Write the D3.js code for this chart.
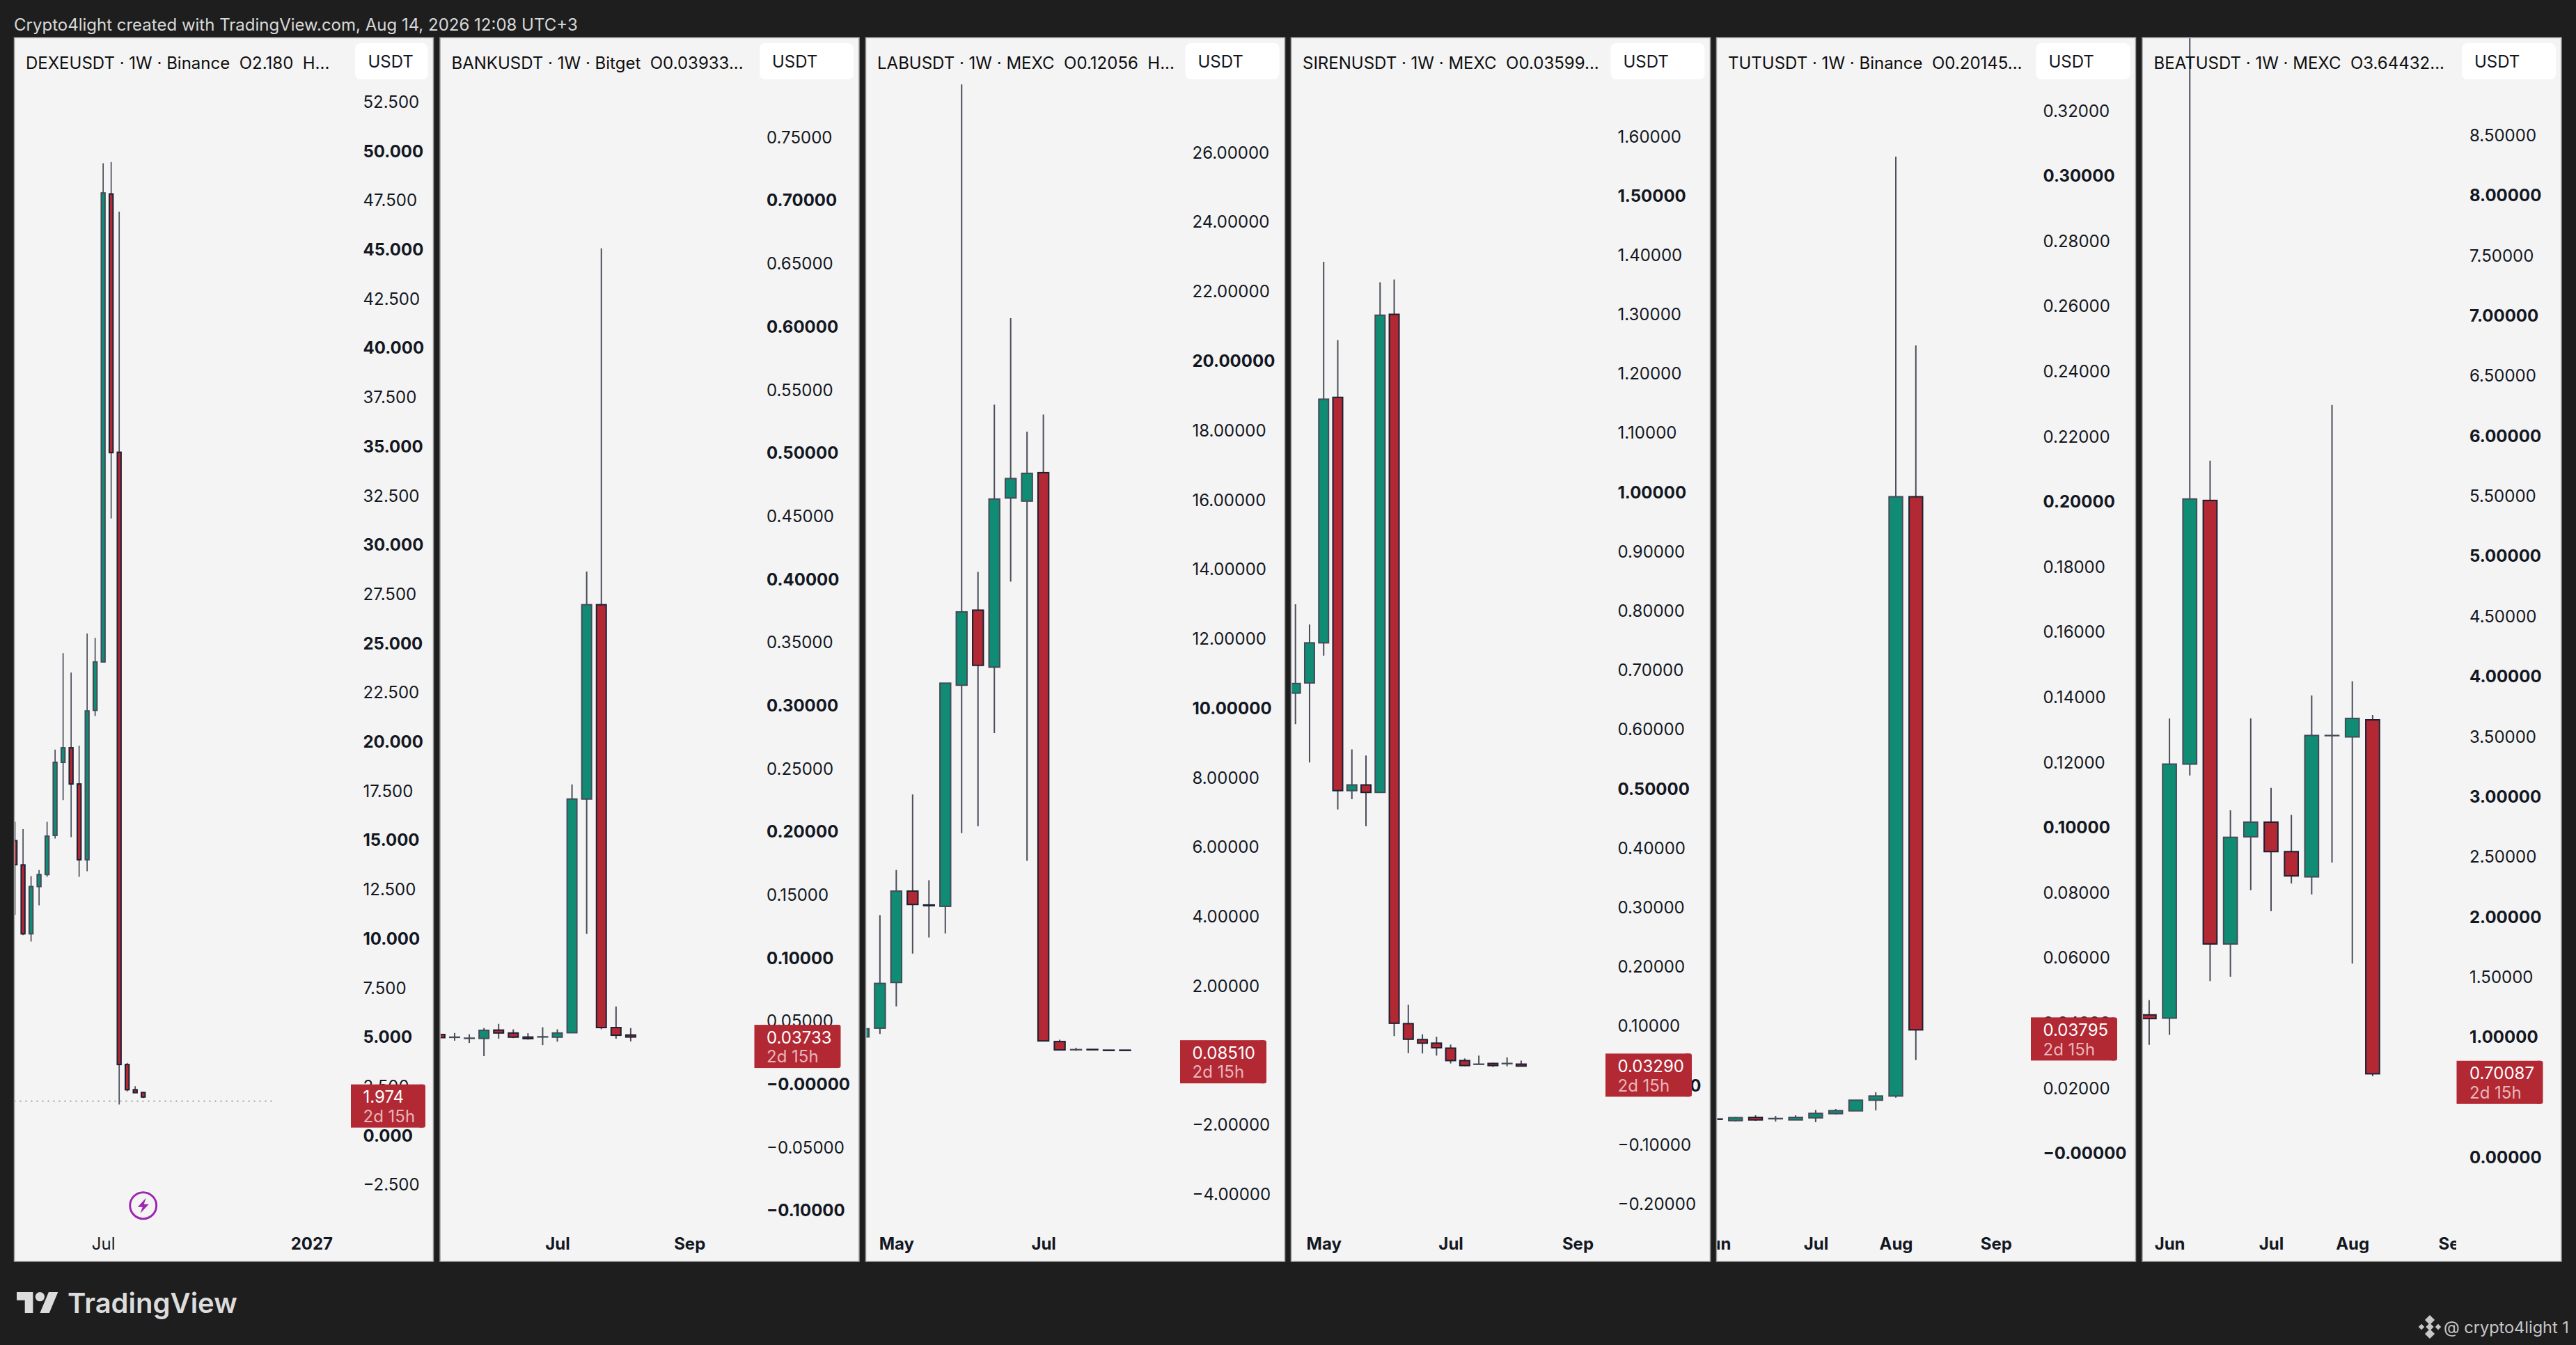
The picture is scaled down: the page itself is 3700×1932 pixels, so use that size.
<!DOCTYPE html>
<html>
<head>
<meta charset="utf-8">
<script src="https://cdn.jsdelivr.net/npm/d3@7"></script>
<style>
    html, body { margin: 0; padding: 0; background: #1e1e1e; }
    svg { display: block; }
    text { font-family: Inter, "Noto Sans", sans-serif; white-space: pre; }
</style>
</head>
<body>
<div id="chart"></div>
<script>

// weekly candles: [open, high, low, close]
const dexeCandles = [
    [14.99, 15.95, 11.23, 13.77], [13.76, 15.58, 10.19, 10.26], [10.26, 13.19, 9.87, 12.66],
    [12.66, 13.50, 11.70, 13.27], [13.27, 15.95, 13.15, 15.22], [15.26, 19.62, 15.10, 18.97],
    [18.97, 24.51, 17.05, 19.71], [19.71, 23.53, 15.17, 17.87], [17.87, 19.82, 13.15, 14.02],
    [14.02, 25.51, 13.44, 21.58], [21.61, 25.29, 21.32, 24.07], [24.07, 49.40, 24.07, 47.89],
    [47.84, 49.46, 31.36, 34.70], [34.72, 46.94, 1.59, 3.62], [3.62, 3.70, 2.25, 2.34],
    [2.34, 2.52, 2.19, 2.19], [2.20, 2.22, 1.92, 1.97]
]
const bankCandles = [
    [.0396, .0410, .0360, .0371], [.0375, .0408, .0347, .0375], [.0367, .0398, .0329, .0367],
    [.0365, .0447, .0225, .0429], [.0431, .0480, .0363, .0408], [.0408, .0437, .0367, .0375],
    [.0376, .0406, .0355, .0363], [.0378, .0453, .0312, .0378], [.0375, .0437, .0339, .0408],
    [.0410, .2377, .0410, .2261], [.2261, .4062, .1192, .3800], [.3800, .6622, .0437, .0451],
    [.0451, .0618, .0363, .0390], [.0392, .0447, .0341, .0376]
]
const labCandles = [
    [.541, .80, .50, .774], [.792, 4.05, .622, 2.081], [2.108, 5.348, 1.419, 4.739],
    [4.739, 7.523, 2.94, 4.354], [4.34, 5.052, 3.405, 4.32], [4.30, 10.73, 3.52, 10.727],
    [10.67, 27.97, 6.41, 12.78], [12.83, 13.93, 6.61, 11.24], [11.19, 18.75, 9.29, 16.03],
    [16.06, 21.24, 13.65, 16.62], [15.97, 17.97, 5.61, 16.77], [16.79, 18.46, .425, .425],
    [.407, .46, .166, .166], [.175, .229, .139, .175], [.18, .18, .17, .17],
    [.16, .16, .15, .15], [.16, .16, .15, .15]
]
const sirenCandles = [
    [.6618, .8116, .6094, .678], [.679, .7775, .5447, .7466], [.7466, 1.389, .7251, 1.1574],
    [1.1605, 1.257, .4657, .4974], [.4974, .5669, .483, .507], [.507, .5567, .4375, .4944],
    [.4944, 1.3545, .4944, 1.299], [1.3005, 1.3592, .0835, .1051], [.1045, .1363, .0548, .0782],
    [.0776, .0865, .0542, .0716], [.0716, .0823, .0506, .0638], [.0632, .0692, .0374, .0422],
    [.0422, .0458, .0326, .0338], [.0362, .0506, .0362, .0362], [.0374, .0386, .0314, .0338],
    [.0374, .0476, .0326, .0374], [.0362, .0422, .0326, .0329]
]
const tutCandles = [
    [.01060, .01060, .01050, .01050], [.01011, .01125, .00983, .01104], [.01111, .01175, .01004, .01033],
    [.01075, .01154, .00983, .01075], [.01033, .01175, .01033, .01111], [.01097, .01339, .00962, .01232],
    [.01225, .01368, .01197, .01318], [.01311, .01638, .01311, .01638], [.01638, .01880, .01325, .01766],
    [.01766, .30600, .01717, .20160], [.20160, .24800, .02870, .03796]
]
const beatCandles = [
    [1.187, 1.31, .938, 1.156], [1.16, 3.653, 1.021, 3.273], [3.273, 9.6, 3.178, 5.478],
    [5.466, 5.797, 1.468, 1.777], [1.777, 2.889, 1.504, 2.664], [2.668, 3.653, 2.224, 2.79],
    [2.79, 3.075, 2.05, 2.545], [2.545, 2.85, 2.28, 2.343], [2.335, 3.843, 2.189, 3.511],
    [3.511, 6.26, 2.454, 3.511], [3.499, 3.962, 1.615, 3.653], [3.641, 3.681, .677, .697]
]

const dexeTicks = [-2.5, 0, 2.5, 5, 7.5, 10, 12.5, 15, 17.5, 20, 22.5, 25, 27.5, 30, 32.5, 35, 37.5, 40, 42.5, 45, 47.5, 50, 52.5]
const bankTicks = [-.1, -.05, 0, .05, .1, .15, .2, .25, .3, .35, .4, .45, .5, .55, .6, .65, .7, .75]
const labTicks = [-4, -2, 0, 2, 4, 6, 8, 10, 12, 14, 16, 18, 20, 22, 24, 26]
const sirenTicks = [-.2, -.1, 0, .1, .2, .3, .4, .5, .6, .7, .8, .9, 1, 1.1, 1.2, 1.3, 1.4, 1.5, 1.6]
const tutTicks = [0, .02, .04, .06, .08, .1, .12, .14, .16, .18, .2, .22, .24, .26, .28, .3, .32]
const beatTicks = [0, .5, 1, 1.5, 2, 2.5, 3, 3.5, 4, 4.5, 5, 5.5, 6, 6.5, 7, 7.5, 8, 8.5]

const panelTitles = [
    "DEXEUSDT · 1W · Binance  O2.180  H...",
    "BANKUSDT · 1W · Bitget  O0.03933...",
    "LABUSDT · 1W · MEXC  O0.12056  H...",
    "SIRENUSDT · 1W · MEXC  O0.03599...",
    "TUTUSDT · 1W · Binance  O0.20145...",
    "BEATUSDT · 1W · MEXC  O3.64432..."
]
const lastPrices = [1.974, .03733, .0851, .0329, .03795, .70087]
const lastPriceLabels = ["1.974", "0.03733", "0.08510", "0.03290", "0.03795", "0.70087"]
const countdown = "2d 15h"
const zeroLabels = ["0.000", "−0.00000", "0.00000", "−0.00000", "−0.00000", "0.00000"]
const boldEvery = [5, .1, 10, .5, .1, 1]
const decimals = [3, 5, 5, 5, 5, 5]

// time axis: position in candle index, label, bold or not
const dexeMonths = [[11, "Jul", false], [37, "2027", true]]
const bankMonths = [[8, "Jul", true], [17, "Sep", true]]
const labMonths = [[2, "May", true], [11, "Jul", true]]
const sirenMonths = [[2, "May", true], [11, "Jul", true], [20, "Sep", true]]
const tutMonths = [[0, "Jun", true], [5, "Jul", true], [9, "Aug", true], [14, "Sep", true]]
const beatMonths = [[1, "Jun", true], [6, "Jul", true], [10, "Aug", true], [15, "Sep", true]]

const allCandles = [dexeCandles, bankCandles, labCandles, sirenCandles, tutCandles, beatCandles]
const allTicks = [dexeTicks, bankTicks, labTicks, sirenTicks, tutTicks, beatTicks]
const allMonths = [dexeMonths, bankMonths, labMonths, sirenMonths, tutMonths, beatMonths]

// layout, measured on the reference
const WIDTH = 3700
const HEIGHT = 1932
const panelTop = 54
const panelBottom = 1812
const panelW = 602
const panelLefts = [20.5, 632, 1243.5, 1854.5, 2465.5, 3077]
const chartWidths = [483, 451, 451, 451, 451, 451]
const labelOffsets = [501, 469, 469, 469, 469, 470]
const zeroPixels = [1631.5, 1557.8, 1516.4, 1559.4, 1657, 1662.8]
const pixelsPerUnit = [28.28, 1813.6, 49.88, 851.9, 4680, 172.7]
const firstCandleX = [21.6, 631.9, 1240.4, 1860.7, 2464, 3086.9]
const lastCandleX = [205.7, 905.9, 1616, 2184.9, 2751.8, 3407.9]
const bodyWidths = [7.4, 16, 17.4, 16, 21.4, 21.7]
const buttonOffsets = [489.5, 459, 459, 459, 459, 459]
const buttonTextOffsets = [508, 477, 477, 477, 477, 477]

const GREEN = "#118c74"
const RED = "#b22833"
const GREEN_EDGE = "#454b58"
const RED_EDGE = "#1c2034"
const WICK = "#4a4e5a"
const INK = "#131722"
const FONT = 24

const svg = d3.select("#chart").append("svg")
    .attr("width", WIDTH)
    .attr("height", HEIGHT)
    .style("background", "#1e1e1e")

svg.append("text")
    .attr("x", 20)
    .attr("y", 44)
    .attr("fill", "#d8d8d8")
    .attr("font-size", 24)
    .text("Crypto4light created with TradingView.com, Aug 14, 2026 12:08 UTC+3")

panelLefts.forEach((left, p) => drawPanel(left, p))
drawFooter()
drawBolt()

function drawPanel(left, p) {
    const candles = allCandles[p]
    const labelX = left + labelOffsets[p]

    const g = svg.append("g")

    g.append("rect")
        .attr("x", left)
        .attr("y", panelTop)
        .attr("width", panelW)
        .attr("height", panelBottom - panelTop)
        .attr("fill", "#f4f4f4")
        .attr("stroke", "#9b9b9b")
        .attr("stroke-width", 1.5)

    const x = d3.scaleLinear()
        .domain([0, candles.length - 1])
        .range([firstCandleX[p], lastCandleX[p]])

    const y = d3.scaleLinear()
        .domain([0, 1])
        .range([zeroPixels[p], zeroPixels[p] - pixelsPerUnit[p]])

    // candles and month labels stay inside the chart pane
    const clipId = "pane" + p
    g.append("clipPath").attr("id", clipId)
        .append("rect")
        .attr("x", left + 1)
        .attr("y", panelTop + 1)
        .attr("width", chartWidths[p] - 1)
        .attr("height", panelBottom - panelTop - 2)

    const pane = g.append("g").attr("clip-path", `url(#${clipId})`)

    // dotted line only on the first panel
    if (p === 0) {
        pane.append("line")
            .attr("x1", left)
            .attr("x2", x(32.1))
            .attr("y1", y(1.76))
            .attr("y2", y(1.76))
            .attr("stroke", "#a3a3a3")
            .attr("stroke-width", 2)
            .attr("stroke-dasharray", "2 6")
    }

    const marks = pane.selectAll("g.candle")
        .data(candles)
        .enter()
        .append("g")
        .attr("class", "candle")

    marks.append("line")
        .attr("x1", (d, i) => x(i))
        .attr("x2", (d, i) => x(i))
        .attr("y1", d => y(d[1]))
        .attr("y2", d => y(d[2]))
        .attr("stroke", WICK)
        .attr("stroke-width", p === 0 ? 1.7 : 2)

    const w = bodyWidths[p]
    marks.append("rect")
        .attr("x", (d, i) => x(i) - w / 2 + 1)
        .attr("width", w - 2)
        .attr("y", d => y(Math.max(d[0], d[3])))
        .attr("height", d => Math.max(Math.abs(y(d[0]) - y(d[3])), 0.3))
        .attr("fill", d => d[3] < d[0] ? RED : GREEN)
        .attr("stroke", d => d[3] < d[0] ? RED_EDGE : GREEN_EDGE)
        .attr("stroke-width", 2)

    // month labels
    const months = allMonths[p]
    const timeAxis = d3.axisBottom(x)
        .tickValues(months.map(m => m[0]))
        .tickFormat((d, i) => months[i][1])
        .tickSize(0)
        .tickPadding(0)

    const timeG = pane.append("g")
        .attr("transform", `translate(0,1778)`)
        .call(timeAxis)
    timeG.select(".domain").remove()
    timeG.selectAll("text")
        .attr("font-family", null)
        .attr("font-size", FONT)
        .attr("fill", INK)
        .attr("font-weight", (d, i) => months[i][2] ? 700 : 400)

    // price axis
    const fmt = d3.format(`.${decimals[p]}f`)
    const isBold = v => Math.abs(v / boldEvery[p] - Math.round(v / boldEvery[p])) < 1e-6

    const priceAxis = d3.axisRight(y)
        .tickValues(allTicks[p])
        .tickSize(0)
        .tickPadding(0)
        .tickFormat(v => v === 0 ? zeroLabels[p] : fmt(v))

    const priceG = g.append("g")
        .attr("transform", `translate(${labelX},0)`)
        .call(priceAxis)
    priceG.select(".domain").remove()
    priceG.selectAll("text")
        .attr("font-family", null)
        .attr("font-size", FONT)
        .attr("fill", INK)
        .attr("font-weight", v => isBold(v) ? 700 : 400)

    // last price tag
    const tagY = y(lastPrices[p])
    const tagX = left + chartWidths[p] + 0.5
    const tagW = p === 0 ? 107 : 124
    g.append("rect")
        .attr("x", tagX + tagW - 10)
        .attr("y", tagY - 18)
        .attr("width", 10)
        .attr("height", 62)
        .attr("rx", 3)
        .attr("fill", RED)
    g.append("rect")
        .attr("x", tagX)
        .attr("y", tagY - 18)
        .attr("width", tagW - 4)
        .attr("height", 62)
        .attr("fill", RED)
    g.append("text")
        .attr("x", labelX)
        .attr("y", tagY)
        .attr("dy", "0.36em")
        .attr("font-size", FONT)
        .attr("fill", "#ffffff")
        .text(lastPriceLabels[p])
    g.append("text")
        .attr("x", labelX)
        .attr("y", tagY + 27.6)
        .attr("dy", "0.36em")
        .attr("font-size", FONT)
        .attr("fill", "#e8b6ba")
        .text(countdown)

    // header
    g.append("text")
        .attr("x", left + 16.5)
        .attr("y", 99)
        .attr("font-size", 24)
        .attr("fill", "#0f0f0f")
        .text(panelTitles[p])

    g.append("rect")
        .attr("x", left + buttonOffsets[p])
        .attr("y", 62)
        .attr("width", panelW - buttonOffsets[p] - 8)
        .attr("height", 52)
        .attr("rx", 8)
        .attr("fill", "#ffffff")
    g.append("text")
        .attr("x", left + buttonTextOffsets[p])
        .attr("y", 97)
        .attr("font-size", 24)
        .attr("fill", INK)
        .text("USDT")
}

function drawBolt() {
    const bolt = svg.append("g").attr("transform", "translate(205.7,1731.7)")
    bolt.append("circle").attr("r", 21.5).attr("fill", "#ffffff")
    bolt.append("circle")
        .attr("r", 19)
        .attr("fill", "#f4f4f4")
        .attr("stroke", "#9c27b0")
        .attr("stroke-width", 3)
    bolt.append("path")
        .attr("d", "M4,-11 L-8,2 L-1,2 L-4,11 L8,-2 L1,-2 Z")
        .attr("fill", "#9c27b0")
}

function drawFooter() {
    // TradingView mark
    const mark = svg.append("g")
        .attr("transform", "translate(24,1849.3) scale(1.67)")
        .attr("fill", "#dcdcdc")
    mark.append("path").attr("d", "M14 22H7V11H0V4h14v18zM28 22h-8l7.5-18h8L28 22z")
    mark.append("circle").attr("cx", 20).attr("cy", 8).attr("r", 4)

    svg.append("text")
        .attr("x", 97)
        .attr("y", 1886)
        .attr("font-size", 40)
        .attr("font-weight", 600)
        .attr("fill", "#dcdcdc")
        .text("TradingView")

    // small diamond badge next to the author tag
    const badge = svg.append("g")
        .attr("transform", "translate(3490,1906)")
        .attr("fill", "#c8c8c8")
    const dots = [[-12, 0, 3], [12, 0, 3], [0, -10, 5], [0, 10, 5], [0, 0, 4]]
    badge.selectAll("rect")
        .data(dots)
        .enter()
        .append("rect")
        .attr("x", d => d[0] - d[2])
        .attr("y", d => d[1] - d[2])
        .attr("width", d => d[2] * 2)
        .attr("height", d => d[2] * 2)
        .attr("transform", d => `rotate(45 ${d[0]} ${d[1]})`)

    svg.append("text")
        .attr("x", 3510)
        .attr("y", 1915)
        .attr("font-size", 23.5)
        .attr("fill", "#c8c8c8")
        .text("@ crypto4light 1")
}
</script>
</body>
</html>
